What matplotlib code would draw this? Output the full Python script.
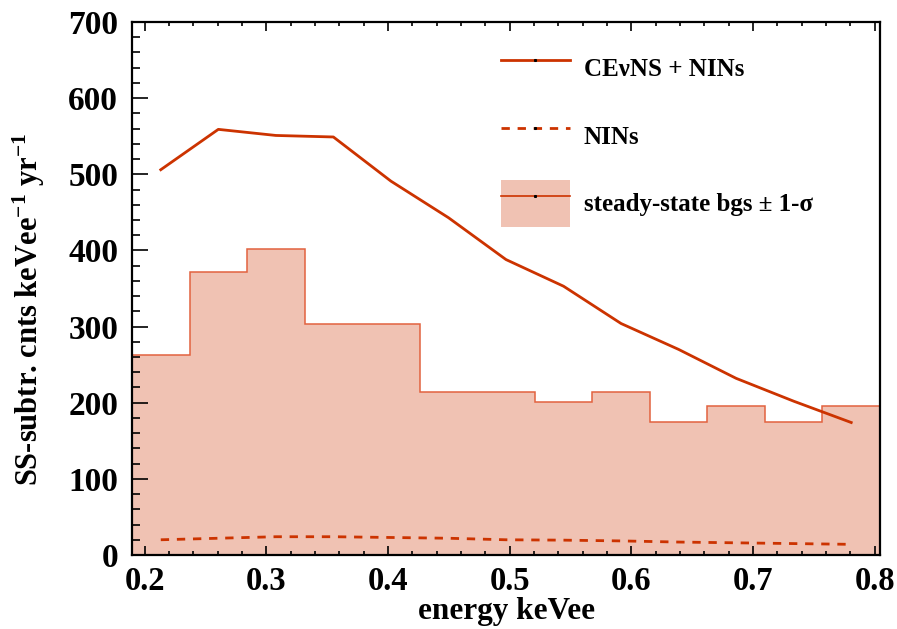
import matplotlib

matplotlib.use("Agg")

import matplotlib.pyplot as plt
import numpy as np
from matplotlib.lines import Line2D
from matplotlib.patches import Patch
from matplotlib.ticker import FormatStrFormatter, MultipleLocator

# steady-state background histogram (13 equal bins)
bin_lo = 0.1895
bin_width = 0.0473
bg_counts = [263, 372, 402, 304, 304, 214, 214, 201, 214, 175, 196, 175, 196]

# curves sampled at the bin centres
cevns_nins = [506, 559, 551, 549, 491, 443, 388, 353, 304, 270, 232, 202, 174]
nins = [20, 22, 24, 24, 23, 22, 20, 19.5, 18.5, 17, 16, 15, 14]

edges = bin_lo + bin_width * np.arange(len(bg_counts) + 1)
centres = 0.5 * (edges[:-1] + edges[1:])

line_color = "#CC3300"
fill_color = "#F0C2B3"
edge_color = "#E2623F"

plt.rcParams["font.family"] = ["Liberation Serif", "DejaVu Serif"]
plt.rcParams["font.weight"] = "bold"
plt.rcParams["mathtext.fontset"] = "custom"
plt.rcParams["mathtext.rm"] = "Liberation Serif:bold"
plt.rcParams["mathtext.it"] = "Liberation Serif:bold"
plt.rcParams["mathtext.bf"] = "Liberation Serif:bold"

fig = plt.figure(figsize=(8.97, 6.29), dpi=100)
ax = fig.add_axes([132 / 897, 1 - 555 / 629, 748 / 897, 533 / 629])

ax.stairs(bg_counts, edges, fill=True, color=fill_color, zorder=1)
ax.stairs(bg_counts, edges, color=edge_color, linewidth=1.1, zorder=2)
ax.plot(centres, cevns_nins, color=line_color, linewidth=2.0, zorder=3)
ax.plot(centres, nins, color=line_color, linewidth=2.0, dashes=(3, 2.8), zorder=3)

ax.set_xlim(edges[0], edges[-1])
ax.set_ylim(0, 700)

ax.xaxis.set_major_locator(MultipleLocator(0.1))
ax.xaxis.set_minor_locator(MultipleLocator(0.02))
ax.yaxis.set_major_locator(MultipleLocator(100))
ax.yaxis.set_minor_locator(MultipleLocator(20))
ax.xaxis.set_major_formatter(FormatStrFormatter("%.1f"))

ax.tick_params(axis="x", which="both", direction="in", top=True, bottom=True, width=1.2)
ax.tick_params(axis="x", which="major", length=6.5, pad=8, labelsize=23.5)
ax.tick_params(axis="x", which="minor", length=3.2)
ax.tick_params(axis="y", which="both", direction="in", left=True, right=False, width=1.2)
ax.tick_params(axis="y", which="major", length=11.5, pad=10, labelsize=24)
ax.tick_params(axis="y", which="minor", length=5.8)

for spine in ax.spines.values():
    spine.set_linewidth(1.6)
    spine.set_zorder(5)

ax.set_xlabel("energy keVee", fontsize=22.5, fontweight="bold")
ax.xaxis.set_label_coords(0.5, -0.078)
ax.set_ylabel(r"SS-subtr. cnts keVee$^{-1}$ yr$^{-1}$", fontsize=22, fontweight="bold")
ax.yaxis.set_label_coords(-0.113, 0.46)

handles = [
    Line2D([], [], color=line_color, linewidth=2.0, marker="s", markersize=1.2,
           markerfacecolor="black", markeredgecolor="black"),
    Line2D([], [], color=line_color, linewidth=2.0, dashes=(3, 2.8), marker="s",
           markersize=1.2, markerfacecolor="black", markeredgecolor="black"),
    (Patch(facecolor=fill_color, edgecolor="none"),
     Line2D([], [], color=line_color, linewidth=1.2, marker="s", markersize=1.2,
            markerfacecolor="black", markeredgecolor="black")),
]
labels = ["CEνNS + NINs", "NINs", "steady-state bgs ± 1-σ"]
ax.legend(
    handles,
    labels,
    loc="upper left",
    bbox_to_anchor=(0.4933, 0.957),
    frameon=False,
    prop={"weight": "bold", "size": 18},
    handlelength=2.76,
    handleheight=2.5,
    handletextpad=0.56,
    labelspacing=0.84,
    borderpad=0,
    borderaxespad=0,
)

fig.savefig("out.png", dpi=100)
plt.close(fig)
